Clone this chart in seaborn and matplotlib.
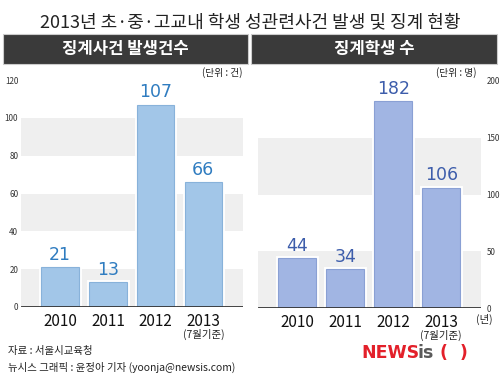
import matplotlib
matplotlib.use("Agg")
import matplotlib.pyplot as plt
import matplotlib.patheffects as pe
from matplotlib.patches import Rectangle
import seaborn as sns

# data
years = ["2010", "2011", "2012", "2013"]
cases = [21, 13, 107, 66]        # 징계사건 발생건수 (건)
students = [44, 34, 182, 106]    # 징계학생 수 (명)
left_ticks = [0, 20, 40, 60, 80, 100, 120]
right_ticks = [0, 50, 100, 150, 200]

sns.set_style("white")
plt.rcParams["font.family"] = ["Noto Sans CJK KR", "DejaVu Sans"]

fig = plt.figure(figsize=(5, 3.81), dpi=100)

fig.text(0.5, 1 - 22 / 381, "2013년 초·중·고교내 학생 성관련사건 발생 및 징계 현황",
         ha="center", va="center", fontsize=13, color="#222222")

# dark header boxes
for x0, w, label in [(3, 245, "징계사건 발생건수"), (251, 246, "징계학생 수")]:
    fig.patches.append(Rectangle((x0 / 500, 1 - 64 / 381), w / 500, 30 / 381,
                                 transform=fig.transFigure, facecolor="#3a3a3a",
                                 edgecolor="#cccccc", lw=0.8))
    fig.text((x0 + w / 2) / 500, 1 - 49 / 381, label, ha="center", va="center",
             fontsize=12, color="white", fontweight="bold")

ax1 = fig.add_axes([21 / 500, 1 - 307 / 381, 222 / 500, 227 / 381])
ax2 = fig.add_axes([258 / 500, 1 - 308 / 381, 223 / 500, 227 / 381])


def draw(ax, vals, ticks, bands, fc, ec, tc, top):
    for lo, hi in bands:
        ax.axhspan(lo, hi, color="#efefef", zorder=0, lw=0)
    sns.barplot(x=years, y=vals, ax=ax, color=fc, saturation=1, width=0.79,
                edgecolor=ec, linewidth=0.8, zorder=2)
    for p in ax.patches:
        if p.get_height() > 0 and p.get_width() < 1:
            p.set_path_effects([pe.Stroke(linewidth=3.5, foreground="white"), pe.Normal()])
    for i, v in enumerate(vals):
        ax.text(i, v + top * 0.015, str(v), ha="center", va="bottom",
                fontsize=12.5, color=tc, family="DejaVu Sans")
    ax.axhline(0, color="#333333", lw=2, zorder=3)
    ax.set_ylim(0, top)
    ax.set_xlim(-0.82, 3.83)
    ax.set_yticks(ticks)
    ax.set_yticklabels([str(t) for t in ticks], fontsize=5.8, color="#333333")
    ax.set_xticks(range(4))
    ax.set_xticklabels(years, fontsize=11, color="#111111")
    ax.tick_params(length=0, pad=4)
    ax.set_xlabel("")
    ax.set_ylabel("")
    for s in ax.spines.values():
        s.set_visible(False)
    ax.text(3, -0.12, "(7월기준)", transform=ax.get_xaxis_transform(),
            ha="center", va="center", fontsize=7.5, color="#222222")


draw(ax1, cases, left_ticks, [(0, 20), (40, 60), (80, 100)],
     "#a2c6e8", "#88b2da", "#2f7cc0", 120)
ax1.tick_params(axis="y", pad=2)

draw(ax2, students, right_ticks, [(0, 50), (100, 150)],
     "#a1b5e3", "#8aa0d4", "#3d5dab", 200)
ax2.yaxis.tick_right()
ax2.tick_params(axis="y", pad=4)

fig.text(0.969, 1 - 319 / 381, "(년)", ha="center", va="center", fontsize=7.5, color="#222222")
fig.text(0.486, 1 - 73 / 381, "(단위 : 건)", ha="right", va="center", fontsize=7, color="#222222")
fig.text(0.954, 1 - 73 / 381, "(단위 : 명)", ha="right", va="center", fontsize=7, color="#222222")

fig.text(8 / 500, 1 - 351 / 381, "자료 : 서울시교육청", ha="left", va="center",
         fontsize=7.5, color="#222222")
fig.text(8 / 500, 1 - 367 / 381, "뉴시스 그래픽 : 윤정아 기자 (yoonja@newsis.com)",
         ha="left", va="center", fontsize=7.5, color="#222222")

# logo, pieces chained one after another
logo = dict(fontsize=12.5, fontweight="bold", family="DejaVu Sans")
t1 = fig.text(361 / 500, 1 - 358 / 381, "NEWS", ha="left", va="baseline",
              color="#e3202a", **logo)
a2 = fig.add_artist(plt.Annotation("is", xy=(1, 0), xycoords=t1, xytext=(-1, 0),
                                   textcoords="offset points", va="bottom",
                                   color="#5a5a5a", **logo))
fig.add_artist(plt.Annotation("(  )", xy=(1, 0), xycoords=a2, xytext=(4, 0),
                              textcoords="offset points", va="bottom",
                              color="#e3202a", **logo))

fig.savefig("out.png", dpi=100)
